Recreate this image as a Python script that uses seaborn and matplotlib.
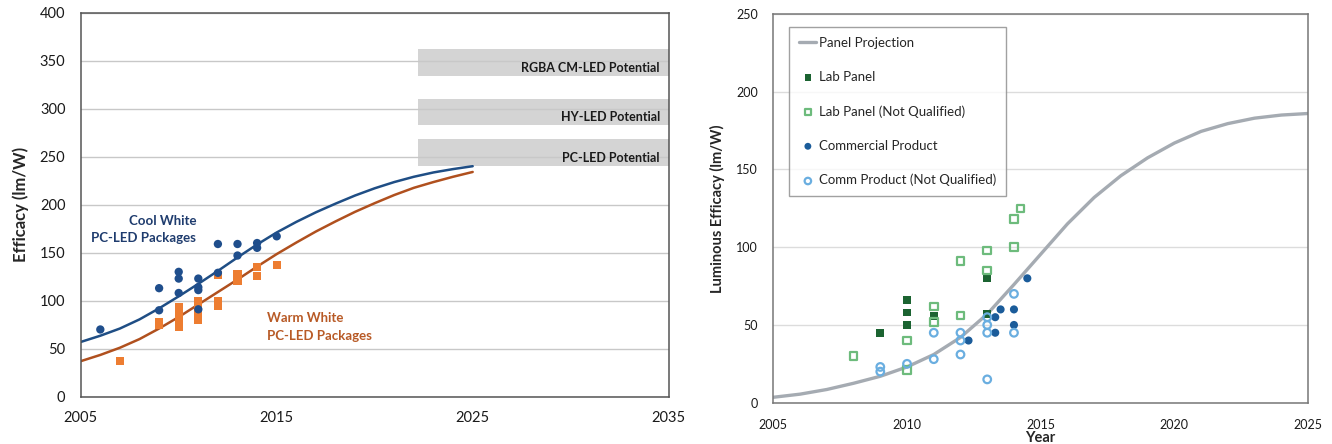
import numpy as np
import pandas as pd
import seaborn as sns
import matplotlib.pyplot as plt

# ---- left panel data (PC-LED packages) ----
curve_years = [2005, 2006, 2007, 2008, 2009, 2010, 2011, 2012, 2013, 2014, 2015,
               2016, 2017, 2018, 2019, 2020, 2021, 2022, 2023, 2024, 2025]
cool_curve = [57, 63.5, 71, 80.5, 92, 104.5, 117.5, 131, 145, 158.5, 171,
              182, 192, 201, 209.5, 217, 223.5, 229, 233.5, 237, 240]
warm_curve = [37, 43.5, 51, 60, 71, 83, 96, 109, 122, 135.5, 148.5,
              160.5, 172, 182.5, 192.5, 201.5, 210, 217.5, 223.5, 229, 234]

cool_x = [2006, 2009, 2009, 2010, 2010, 2010, 2011, 2011, 2011, 2011,
          2012, 2012, 2013, 2013, 2014, 2014, 2015]
cool_y = [70, 113, 90, 130, 123, 108, 123, 114, 111, 91,
          159, 129, 159, 147, 160, 155, 167]

warm_x = [2007, 2009, 2009, 2010, 2010, 2010, 2010, 2010, 2011, 2011, 2011, 2011,
          2012, 2012, 2012, 2013, 2013, 2014, 2014, 2015]
warm_y = [37, 78, 75, 93, 87, 81, 77, 73, 99, 92, 86, 80,
          127, 99, 95, 128, 121, 135, 126, 137]

band_labels = ["RGBA CM-LED Potential", "HY-LED Potential", "PC-LED Potential"]
band_low = [334, 283, 240]
band_high = [362, 310, 268]
band_start = [2022.2, 2022.2, 2022.2]

# ---- right panel data (OLED panels) ----
proj_years = [2005, 2006, 2007, 2008, 2009, 2010, 2011, 2012, 2013, 2014, 2015,
              2016, 2017, 2018, 2019, 2020, 2021, 2022, 2023, 2024, 2025]
proj_vals = [3.5, 5.5, 8.5, 12.5, 17, 23, 31, 42, 57, 76, 95.5,
             115, 132, 146, 157.5, 167, 174.5, 179.5, 183, 185, 186]

lab_x = [2009, 2010, 2010, 2010, 2011, 2013, 2013]
lab_y = [45, 66, 58, 50, 55.8, 80, 57]

labnq_x = [2008, 2010, 2010, 2011, 2011, 2012, 2012, 2013, 2013, 2014, 2014, 2014.25]
labnq_y = [30, 40, 21, 62, 52, 91, 56, 98, 85, 118, 100, 125]

comm_x = [2012.3, 2013.3, 2013.3, 2013.5, 2014, 2014, 2014.5]
comm_y = [40, 55, 45, 60, 60, 50, 80]

commnq_x = [2009, 2009, 2010, 2011, 2011, 2012, 2012, 2012, 2013, 2013, 2013, 2013, 2014, 2014]
commnq_y = [23, 20, 25, 45, 28, 45, 40, 31, 55, 50, 45, 15, 70, 45]

sns.set_style("white")
plt.rcParams['font.family'] = ['Lato', 'DejaVu Sans']

fig = plt.figure(figsize=(13.32, 4.44), dpi=100)
ax1 = fig.add_axes([0.0606, 0.1065, 0.4414, 0.8653])
ax2 = fig.add_axes([0.5806, 0.0930, 0.4014, 0.8755])

# ---------- left panel ----------
ax1.set_axisbelow(True)
ax1.grid(axis='y', color='#c8c8c8', lw=1.0)
for lo, hi, st, lab in zip(band_low, band_high, band_start, band_labels):
    ax1.fill_between([st, 2035], lo, hi, color='#d4d4d4', lw=0, zorder=0.3)
    ax1.text(2034.55, lo + (hi - lo) * 0.3, lab, ha='right', va='center',
             fontsize=9, fontweight='bold', color='#1a1a1a')

curves = pd.DataFrame({"year": curve_years, "cool": cool_curve, "warm": warm_curve})
sns.lineplot(data=curves, x="year", y="cool", ax=ax1, color='#1f4e85', lw=1.8)
sns.lineplot(data=curves, x="year", y="warm", ax=ax1, color='#b0501e', lw=1.8)
sns.scatterplot(x=warm_x, y=warm_y, ax=ax1, marker='s', s=36, color='#ed7d31',
                edgecolor='none', zorder=3)
sns.scatterplot(x=cool_x, y=cool_y, ax=ax1, marker='o', s=36, color='#1f4e8c',
                edgecolor='none', zorder=4)

ax1.text(2010.9, 183, "Cool White", ha='right', va='center', fontsize=9.5,
         fontweight='bold', color='#1f3c6e')
ax1.text(2010.9, 165, "PC-LED Packages", ha='right', va='center', fontsize=9.5,
         fontweight='bold', color='#1f3c6e')
ax1.text(2014.5, 82, "Warm White", ha='left', va='center', fontsize=9.5,
         fontweight='bold', color='#b85a26')
ax1.text(2014.5, 63.5, "PC-LED Packages", ha='left', va='center', fontsize=9.5,
         fontweight='bold', color='#b85a26')

ax1.set_xlim(2005, 2035)
ax1.set_ylim(0, 400)
ax1.set_xticks([2005, 2015, 2025, 2035])
ax1.set_yticks(np.arange(0, 401, 50))
ax1.tick_params(axis='y', length=0, pad=11, labelsize=10.5, labelcolor='#1a1a1a')
ax1.tick_params(axis='x', direction='in', length=4, color='#c0c0c0', pad=10,
                labelsize=10.5, labelcolor='#1a1a1a')
ax1.set_xlabel("")
ax1.set_ylabel("Efficacy (lm/W)", fontsize=12, fontweight='bold', labelpad=8)
for side, sp in ax1.spines.items():
    sp.set_visible(True)
    sp.set_color('#555555')
    sp.set_linewidth(1.1)

# ---------- right panel ----------
ax2.set_axisbelow(True)
ax2.grid(axis='y', color='#dcdcdc', lw=1.0)
proj = pd.DataFrame({"year": proj_years, "eff": proj_vals})
sns.lineplot(data=proj, x="year", y="eff", ax=ax2, color='#a5abb2', lw=2.4,
             label="Panel Projection")
sns.scatterplot(x=lab_x, y=lab_y, ax=ax2, marker='s', s=30, color='#1b6331',
                edgecolor='none', label="Lab Panel", zorder=3)
sns.scatterplot(x=labnq_x, y=labnq_y, ax=ax2, marker='s', s=30, facecolor='none',
                edgecolor='#6dbb7c', linewidth=1.6, label="Lab Panel (Not Qualified)", zorder=3)
sns.scatterplot(x=comm_x, y=comm_y, ax=ax2, marker='o', s=34, color='#1b5c9a',
                edgecolor='none', label="Commercial Product", zorder=4)
sns.scatterplot(x=commnq_x, y=commnq_y, ax=ax2, marker='o', s=30, facecolor='none',
                edgecolor='#6aaee0', linewidth=1.6, label="Comm Product (Not Qualified)", zorder=4)

leg = ax2.legend(loc='upper left', bbox_to_anchor=(0.03, 0.967), frameon=True,
                 fancybox=False, edgecolor='#8a8a8a', fontsize=9.5, labelspacing=1.68,
                 handlelength=1.3, handletextpad=0.2, borderpad=0.75, borderaxespad=0,
                 markerscale=0.85)
leg.get_frame().set_linewidth(1.0)
for t in leg.get_texts():
    t.set_color('#262626')

ax2.set_xlim(2005, 2025)
ax2.set_ylim(0, 250)
ax2.set_xticks([2005, 2010, 2015, 2020, 2025])
ax2.set_yticks(np.arange(0, 251, 50))
ax2.tick_params(axis='y', length=0, pad=11, labelsize=9, labelcolor='#1a1a1a')
ax2.tick_params(axis='x', direction='out', length=4, color='#a0a0a0', pad=8,
                labelsize=9, labelcolor='#1a1a1a')
ax2.set_xlabel("Year", fontsize=10.5, fontweight='bold', labelpad=0)
ax2.set_ylabel("Luminous Efficacy (lm/W)", fontsize=10.5, fontweight='bold', labelpad=8)
for side, sp in ax2.spines.items():
    sp.set_visible(True)
    sp.set_color('#777777')
    sp.set_linewidth(1.1)

fig.savefig("out.png", dpi=100)
